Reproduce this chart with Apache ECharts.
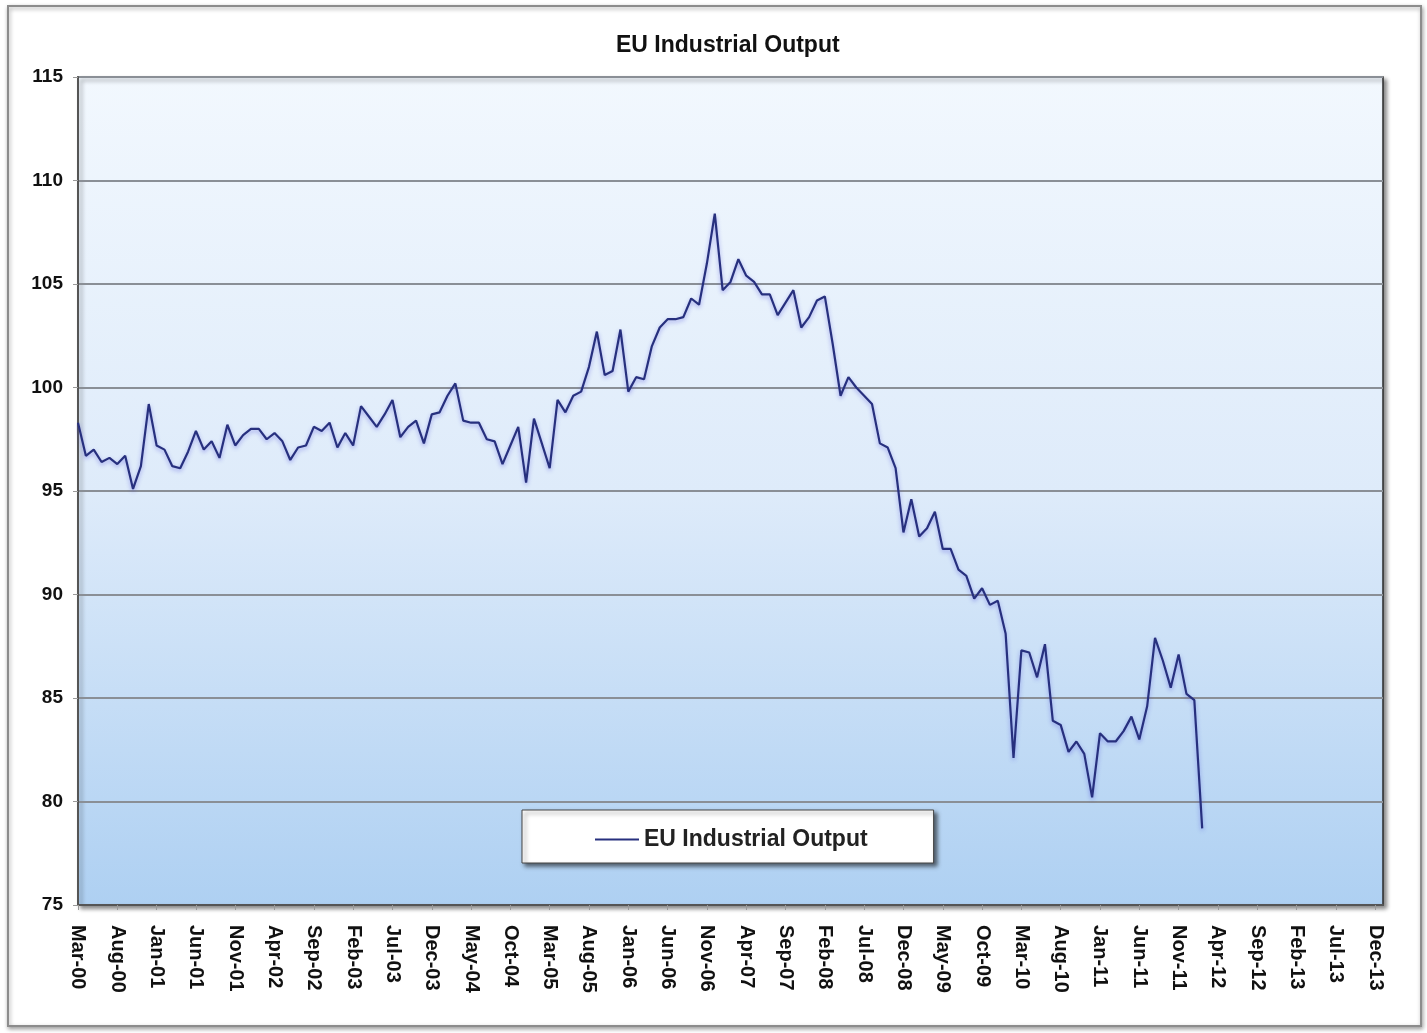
<!DOCTYPE html>
<html>
<head>
<meta charset="utf-8">
<script src="https://cdn.jsdelivr.net/npm/echarts@6/dist/echarts.min.js"></script>
<style>
  html, body { margin: 0; padding: 0; background: #ffffff; }
  #chart { width: 1427px; height: 1033px; }
</style>
</head>
<body>
<div id="chart"></div>
<script>
// Category axis: monthly, Mar-00 .. Jan-14 (axis runs slightly past the last label Dec-13)
const monthNames = ['Jan','Feb','Mar','Apr','May','Jun','Jul','Aug','Sep','Oct','Nov','Dec'];
const startYear = 2000, startMonth = 2, endYear = 2014, endMonth = 0;
const categories = [];
for (let y = startYear; y <= endYear; y++) {
  for (let m = 0; m < 12; m++) {
    if (y === startYear && m < startMonth) continue;
    if (y === endYear && m > endMonth) break;
    categories.push(monthNames[m] + '-' + String(y % 100).padStart(2, '0'));
  }
}
const labelEvery = 5;
const lastLabelIndex = 165; // Dec-13

// EU Industrial Output, Mar-00 .. Feb-12
const outputValues = [
  98.3, 96.7, 97.0, 96.4, 96.6, 96.3, 96.7, 95.1, 96.2, 99.2,
  97.2, 97.0, 96.2, 96.1, 96.9, 97.9, 97.0, 97.4, 96.6, 98.2,
  97.2, 97.7, 98.0, 98.0, 97.5, 97.8, 97.4, 96.5, 97.1, 97.2,
  98.1, 97.9, 98.3, 97.1, 97.8, 97.2, 99.1, 98.6, 98.1, 98.7,
  99.4, 97.6, 98.1, 98.4, 97.3, 98.7, 98.8, 99.6, 100.2, 98.4,
  98.3, 98.3, 97.5, 97.4, 96.3, 97.2, 98.1, 95.4, 98.5, 97.3,
  96.1, 99.4, 98.8, 99.6, 99.8, 101.0, 102.7, 100.6, 100.8, 102.8,
  99.8, 100.5, 100.4, 102.0, 102.9, 103.3, 103.3, 103.4, 104.3, 104.0,
  106.0, 108.4, 104.7, 105.1, 106.2, 105.4, 105.1, 104.5, 104.5, 103.5,
  104.1, 104.7, 102.9, 103.4, 104.2, 104.4, 102.1, 99.6, 100.5, 100.0,
  99.6, 99.2, 97.3, 97.1, 96.1, 93.0, 94.6, 92.8, 93.2, 94.0,
  92.2, 92.2, 91.2, 90.9, 89.8, 90.3, 89.5, 89.7, 88.1, 82.1,
  87.3, 87.2, 86.0, 87.6, 83.9, 83.7, 82.4, 82.9, 82.3, 80.2,
  83.3, 82.9, 82.9, 83.4, 84.1, 83.0, 84.6, 87.9, 86.8, 85.5,
  87.1, 85.2, 84.9, 78.7
];

const yMin = 75, yMax = 115, yStep = 5;
const titleText = 'EU Industrial Output';
const seriesName = 'EU Industrial Output';

const chart = echarts.init(document.getElementById('chart'), null, { renderer: 'canvas' });
const fontFam = '"Liberation Sans", Arial, Helvetica, sans-serif';
const showIdx = (i) => i % labelEvery === 0 && i <= lastLabelIndex;

chart.setOption({
  backgroundColor: '#ffffff',
  animation: false,
  graphic: [
    {
      type: 'rect',
      z: -10,
      shape: { x: 8, y: 6, width: 1413, height: 1020 },
      style: { fill: '#ffffff', stroke: '#8c8c8c', lineWidth: 2,
               shadowColor: 'rgba(0,0,0,0.35)', shadowBlur: 4, shadowOffsetX: 1, shadowOffsetY: 2 }
    }
  ],
  title: {
    text: titleText,
    left: 611,
    top: 29,
    textStyle: { fontFamily: fontFam, fontSize: 23, fontWeight: 'bold', color: '#111' }
  },
  legend: {
    data: [{ name: seriesName, icon: 'rect' }],
    left: 522,
    top: 810,
    padding: [18, 66, 12, 73],
    itemWidth: 44,
    itemHeight: 2,
    itemGap: 10,
    backgroundColor: '#ffffff',
    borderColor: '#444',
    borderWidth: 1,
    borderRadius: 0,
    shadowColor: 'rgba(0,0,0,0.55)',
    shadowBlur: 4,
    shadowOffsetX: 3,
    shadowOffsetY: 3,
    textStyle: { fontFamily: fontFam, fontSize: 23, fontWeight: 'bold', color: '#222' }
  },
  grid: {
    left: 78, right: 44, top: 77, bottom: 128,
    show: true,
    backgroundColor: new echarts.graphic.LinearGradient(0, 0, 0, 1, [
      { offset: 0, color: '#f2f8fe' },
      { offset: 0.5, color: '#deebfa' },
      { offset: 1, color: '#aed0f2' }
    ]),
    borderColor: '#2b2b2b',
    borderWidth: 1.5,
    shadowColor: 'rgba(0,0,0,0.45)',
    shadowBlur: 4,
    shadowOffsetX: 3,
    shadowOffsetY: 3
  },
  xAxis: {
    type: 'category',
    data: categories,
    boundaryGap: false,
    axisLine: { lineStyle: { color: '#555', width: 2 } },
    axisTick: { show: true, interval: (i) => showIdx(i), length: 5, lineStyle: { color: '#999' } },
    axisLabel: {
      interval: (i) => showIdx(i),
      formatter: (v, i) => (showIdx(i) ? v : ''),
      rotate: -90,
      margin: 20,
      fontFamily: fontFam,
      fontSize: 20,
      fontWeight: 'bold',
      color: '#111'
    },
    splitLine: { show: false }
  },
  yAxis: {
    type: 'value',
    min: yMin,
    max: yMax,
    interval: yStep,
    axisLine: { show: true, lineStyle: { color: '#555', width: 2 } },
    axisTick: { show: true, length: 5, lineStyle: { color: '#999' } },
    axisLabel: {
      margin: 15,
      fontFamily: fontFam,
      fontSize: 19,
      fontWeight: 'bold',
      color: '#111'
    },
    splitLine: { show: true, lineStyle: { color: '#8a8f96', width: 2 } }
  },
  series: [
    {
      name: seriesName,
      type: 'line',
      data: outputValues,
      symbol: 'none',
      smooth: false,
      lineStyle: {
        color: '#27307e',
        width: 2.2,
        shadowColor: 'rgba(70,70,220,0.45)',
        shadowBlur: 4,
        shadowOffsetY: 2
      },
      itemStyle: { color: '#27307e' }
    }
  ]
});
</script>
</body>
</html>
